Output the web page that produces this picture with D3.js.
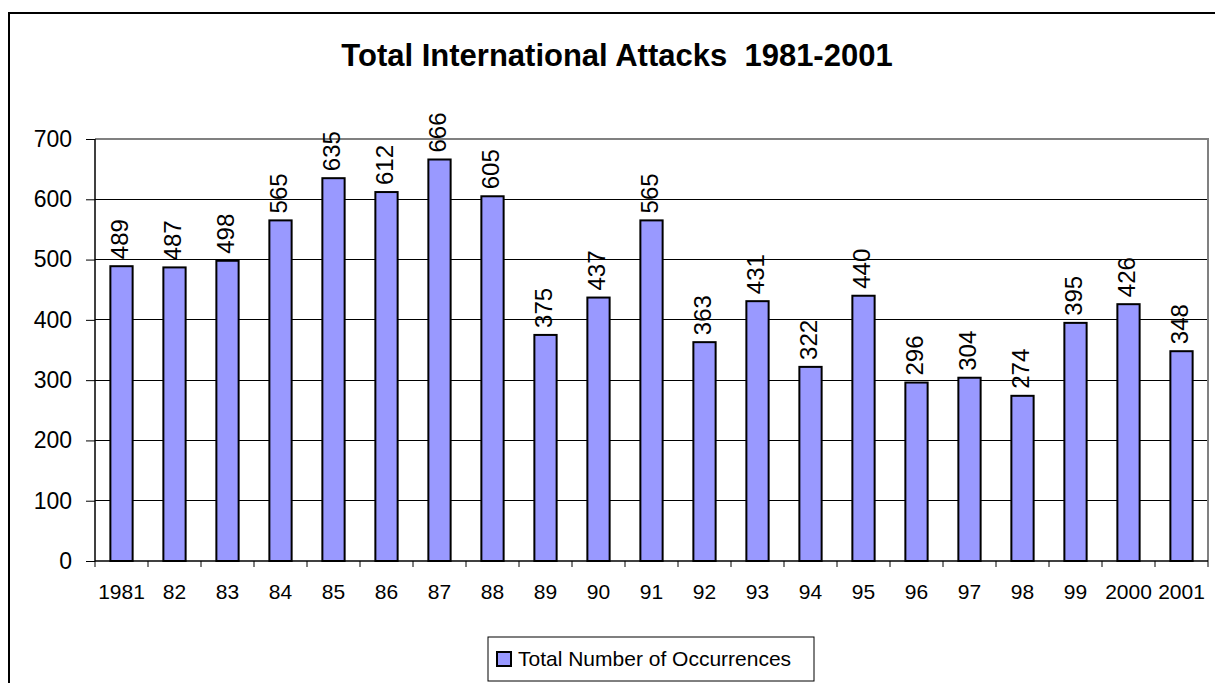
<!DOCTYPE html>
<html>
<head>
<meta charset="utf-8">
<script src="https://cdn.jsdelivr.net/npm/d3@7/dist/d3.min.js"></script>
<style>
  html, body { margin: 0; padding: 0; background: #fff; }
  svg { display: block; font-family: "Liberation Sans", Arial, sans-serif; }
</style>
</head>
<body>
<svg id="chart" width="1215" height="683"></svg>
<script>
const categories = ["1981","82","83","84","85","86","87","88","89","90","91","92","93","94","95","96","97","98","99","2000","2001"];
const occurrences = [489,487,498,565,635,612,666,605,375,437,565,363,431,322,440,296,304,274,395,426,348];
const yTicks = [0,100,200,300,400,500,600,700];
const titleText = "Total International Attacks  1981-2001";
const seriesName = "Total Number of Occurrences";

const svg = d3.select("#chart");
const plot = { left: 95, right: 1208, top: 139, bottom: 561 };

// outer chart frame (extends past right and bottom edges)
svg.append("rect")
  .attr("x", 9).attr("y", 13)
  .attr("width", 1220).attr("height", 700)
  .attr("fill", "#fff").attr("stroke", "#000").attr("stroke-width", 2);

const xb = d3.scaleBand().domain(categories).range([plot.left, plot.right]);
const y = d3.scaleLinear().domain([0, 700]).range([plot.bottom, plot.top]);

// gridlines
svg.append("g").selectAll("line").data(yTicks.filter(t => t > 0 && t < 700)).join("line")
  .attr("x1", plot.left).attr("x2", plot.right)
  .attr("y1", d => y(d)).attr("y2", d => y(d))
  .attr("stroke", "#000").attr("stroke-width", 1).attr("shape-rendering", "crispEdges");

// plot area border (gray top and right)
svg.append("path")
  .attr("d", `M${plot.left},${y(700)}H${plot.right}V${plot.bottom}`)
  .attr("fill", "none").attr("stroke", "#808080").attr("stroke-width", 2);

// bars
svg.append("g").selectAll("rect").data(occurrences).join("rect")
  .attr("x", (d, i) => xb(categories[i]) + xb.bandwidth() * 0.29)
  .attr("width", xb.bandwidth() * 0.42)
  .attr("y", d => y(d))
  .attr("height", d => y(0) - y(d))
  .attr("fill", "#9999FF").attr("stroke", "#000").attr("stroke-width", 2);

// data labels
svg.append("g").selectAll("text").data(occurrences).join("text")
  .attr("transform", (d, i) => `translate(${xb(categories[i]) + xb.bandwidth() / 2 + 6.5},${y(d) - 7}) rotate(-90)`)
  .attr("font-size", 24).attr("fill", "#000")
  .text(d => d);

// y axis
const yAxis = d3.axisLeft(y).tickValues(yTicks).tickSize(9).tickPadding(14);
const gy = svg.append("g").attr("transform", `translate(${plot.left},0)`).call(yAxis);
gy.select(".domain").attr("stroke", "#000").attr("stroke-width", 1.5).attr("d", `M0,${y(700)}V${y(0)}`);
gy.selectAll(".tick line").attr("stroke", "#000");
gy.selectAll(".tick text").attr("font-size", 23).attr("fill", "#000")
  .attr("font-family", "'Liberation Sans', Arial, sans-serif");

// x axis
const gx = svg.append("g").attr("transform", `translate(0,${plot.bottom})`);
gx.append("line").attr("x1", plot.left).attr("x2", plot.right).attr("y1", 0).attr("y2", 0)
  .attr("stroke", "#000").attr("stroke-width", 1.5);
gx.selectAll("line.tk").data(categories.concat(["_end"])).join("line").attr("class", "tk")
  .attr("x1", (d, i) => plot.left + i * xb.bandwidth()).attr("x2", (d, i) => plot.left + i * xb.bandwidth())
  .attr("y1", 0).attr("y2", 6).attr("stroke", "#000");
gx.selectAll("text").data(categories).join("text")
  .attr("x", d => xb(d) + xb.bandwidth() / 2).attr("y", 38)
  .attr("text-anchor", "middle").attr("font-size", 21).attr("fill", "#000")
  .text(d => d);

// title
svg.append("text").attr("x", 617).attr("y", 66).attr("text-anchor", "middle")
  .attr("font-size", 31).attr("font-weight", "bold").attr("fill", "#000")
  .style("white-space", "pre").attr("xml:space", "preserve")
  .text(titleText);

// legend
const lg = svg.append("g");
lg.append("rect").attr("x", 488).attr("y", 637).attr("width", 326).attr("height", 44)
  .attr("fill", "#fff").attr("stroke", "#000").attr("stroke-width", 1);
lg.append("rect").attr("x", 497).attr("y", 652).attr("width", 14).attr("height", 14)
  .attr("fill", "#9999FF").attr("stroke", "#000").attr("stroke-width", 2);
lg.append("text").attr("x", 518).attr("y", 666).attr("font-size", 21).attr("fill", "#000")
  .text(seriesName);
</script>
</body>
</html>
